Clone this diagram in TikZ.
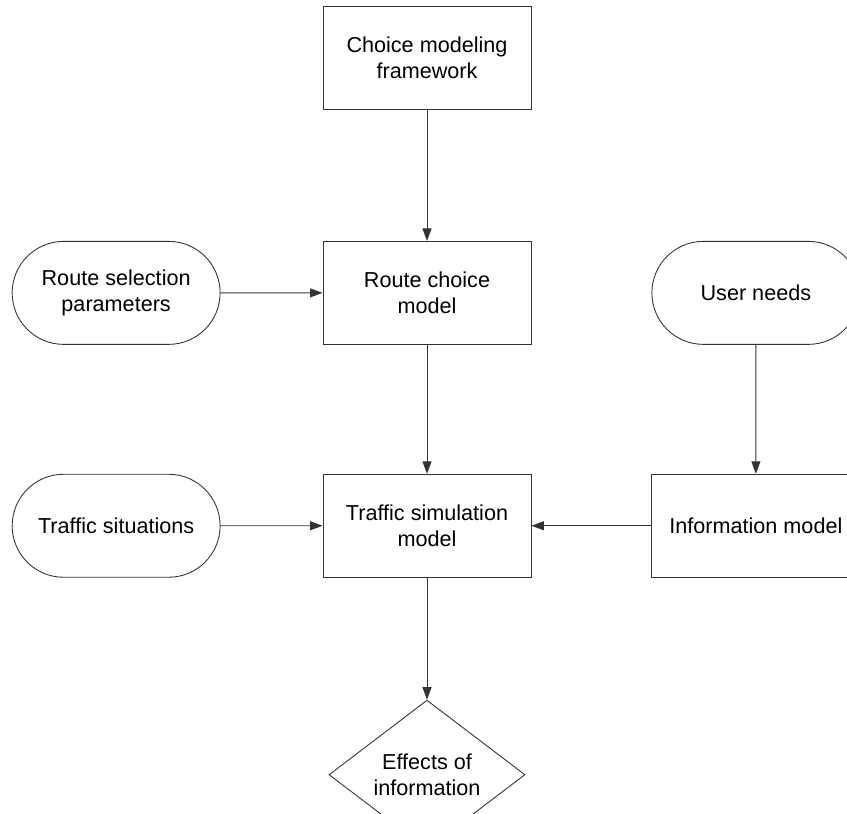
\documentclass[tikz,border=0pt]{standalone}
\usepackage{fontspec}
\setmainfont{Liberation Sans}
\usetikzlibrary{arrows.meta, positioning, shapes.misc, shapes.geometric}

\begin{document}
\begin{tikzpicture}[
    >={Triangle[length=2.5mm, width=1.8mm]},
    every node/.style={font=\fontsize{12.3}{15}\selectfont, align=center},
    box/.style={rectangle, draw=black!80, line width=0.5pt, minimum width=4.16cm, minimum height=2.06cm, inner sep=2pt},
    pill/.style={rounded rectangle, draw=black!80, line width=0.5pt, minimum width=4.3cm, minimum height=2.06cm, inner sep=2pt},
    choice/.style={diamond, draw=black!80, line width=0.5pt, minimum width=3.92cm, minimum height=2.36cm, inner sep=0pt},
    link/.style={->, draw=black!80, line width=0.5pt}
]

\useasboundingbox (0,0) rectangle (16.94,-16.28);

% Nodes ------------------------------------------------------

\node[box] (frame) at (8.54,-1.16) {Choice modeling\\framework};
\node[box, below=2.62cm of frame] (route) {Route choice\\model};
\node[pill, left=2.04cm of route] (params) {Route selection\\parameters};
\node[box, below=2.58cm of route] (sim) {Traffic simulation\\model};
\node[pill, left=2.04cm of sim] (situations) {Traffic situations};
\node[box, right=2.4cm of sim] (info) {Information model};
\node[pill, above=2.58cm of info] (needs) {User needs};
\node[choice, below=2.44cm of sim] (effects) {Effects of\\information};

% Arrows ---------------------------------------------------

\draw [link] (frame) -- (route);
\draw [link] (params) -- (route);
\draw [link] (route) -- (sim);
\draw [link] (needs) -- (info);
\draw [link] (situations) -- (sim);
\draw [link] (info) -- (sim);
\draw [link] (sim) -- (effects);

\end{tikzpicture}
\end{document}
